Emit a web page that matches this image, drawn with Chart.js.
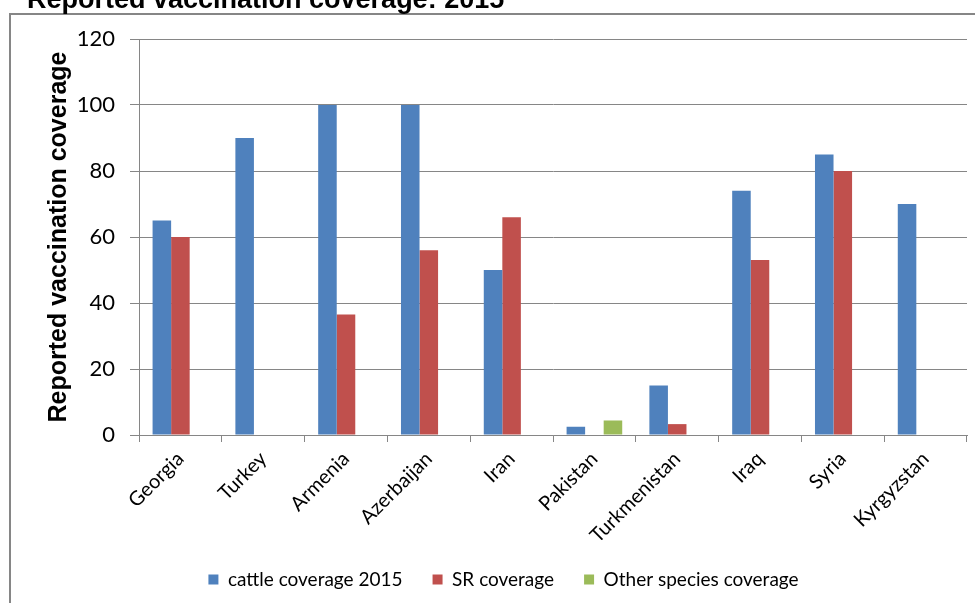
<!DOCTYPE html>
<html>
<head>
<meta charset="utf-8">
<script src="https://cdn.jsdelivr.net/npm/chart.js@4"></script>
<style>
html,body{margin:0;padding:0;background:#fff;}
#wrap{width:975px;height:603px;position:relative;}
</style>
</head>
<body>
<div id="wrap"><canvas id="c" width="975" height="603"></canvas></div>
<script>
const countries = ['Georgia','Turkey','Armenia','Azerbaijan','Iran','Pakistan','Turkmenistan','Iraq','Syria','Kyrgyzstan'];
const cattleCoverage = [65, 90, 100, 100, 50, 2.5, 15, 74, 85, 70];
const srCoverage = [60, null, 36.5, 56, 66, null, 3.3, 53, 80, null];
const otherCoverage = [null, null, null, null, null, 4.4, null, null, null, null];
const yTicks = [0, 20, 40, 60, 80, 100, 120];
const chartTitle = 'Reported vaccination coverage: 2015';
const yTitle = 'Reported vaccination coverage';

const GRAY = '#868686';

const framePlugin = {
  id: 'frame',
  beforeDraw(chart) {
    const ctx = chart.ctx;
    ctx.save();
    ctx.fillStyle = '#fff';
    ctx.fillRect(0, 0, chart.width, chart.height);
    ctx.restore();
  },
  afterDraw(chart) {
    const ctx = chart.ctx;
    ctx.save();
    ctx.strokeStyle = GRAY;
    ctx.lineWidth = 2;
    ctx.beginPath();
    ctx.moveTo(10, 610);
    ctx.lineTo(10, 14);
    ctx.lineTo(985, 14);
    ctx.stroke();
    ctx.fillStyle = '#000';
    ctx.font = 'bold 27px "Liberation Sans", Arial, sans-serif';
    ctx.textBaseline = 'alphabetic';
    ctx.textAlign = 'left';
    ctx.fillText(chartTitle, 27, 8);
    ctx.restore();
  }
};

new Chart(document.getElementById('c'), {
  type: 'bar',
  data: {
    labels: countries,
    datasets: [
      { label: 'cattle coverage 2015', data: cattleCoverage, backgroundColor: '#4F81BD' },
      { label: 'SR coverage', data: srCoverage, backgroundColor: '#C0504D' },
      { label: 'Other species coverage', data: otherCoverage, backgroundColor: '#9BBB59' }
    ]
  },
  options: {
    responsive: false,
    animation: false,
    devicePixelRatio: 1,
    layout: { padding: { top: 39, right: 8, left: 40, bottom: 4 } },
    datasets: { bar: { categoryPercentage: 0.672, barPercentage: 1 } },
    plugins: {
      legend: {
        position: 'bottom',
        labels: {
          font: { family: 'Lato, "Open Sans", sans-serif', size: 19 },
          color: '#000',
          boxWidth: 10,
          boxHeight: 10,
          padding: 30
        }
      },
      tooltip: { enabled: false },
      title: { display: false }
    },
    scales: {
      x: {
        grid: { display: true, drawOnChartArea: false, drawTicks: true, tickLength: 7, color: GRAY, offset: true },
        border: { display: true, color: GRAY, width: 1 },
        ticks: {
          minRotation: 45, maxRotation: 45, autoSkip: false, padding: 5,
          color: '#000',
          font: { family: 'Lato, "Open Sans", sans-serif', size: 20 }
        },
        afterFit(scale) { scale.height = 105; }
      },
      y: {
        min: 0, max: 120,
        afterBuildTicks(scale) { scale.ticks = yTicks.map(v => ({ value: v })); },
        grid: { color: GRAY, drawTicks: true, tickLength: 9 },
        border: { display: true, color: GRAY, width: 1 },
        ticks: {
          padding: 15, color: '#000',
          font: { family: 'Lato, "Open Sans", sans-serif', size: 22 }
        },
        title: {
          display: true, text: yTitle, color: '#000',
          font: { family: '"Liberation Sans", Arial, sans-serif', size: 25, weight: 'bold' },
          padding: { top: 4, bottom: 4 }
        },
        afterFit(scale) { scale.width = 99; }
      }
    }
  },
  plugins: [framePlugin]
});
</script>
</body>
</html>
